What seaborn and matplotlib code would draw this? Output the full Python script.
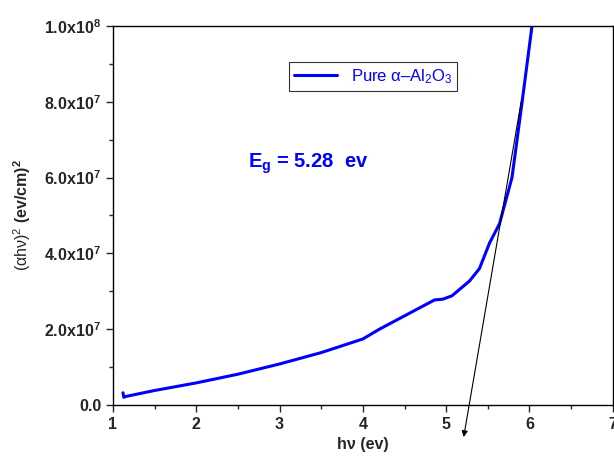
import matplotlib
matplotlib.use('Agg')
import matplotlib.pyplot as plt
import matplotlib.ticker as mticker
import numpy as np
import pandas as pd
import seaborn as sns

sns.set_style("ticks")
plt.rcParams['font.family'] = ['Liberation Sans', 'DejaVu Sans']
plt.rcParams['mathtext.fontset'] = 'custom'
plt.rcParams['mathtext.rm'] = 'Liberation Sans'
plt.rcParams['mathtext.bf'] = 'Liberation Sans:bold'
plt.rcParams['mathtext.it'] = 'Liberation Sans:italic'

# photon energy (eV) and (alpha h nu)^2
hv = [1.12, 1.13, 1.15, 1.5, 2.0, 2.5, 3.0, 3.5, 4.0, 4.2, 4.5, 4.86, 4.96,
      5.07, 5.28, 5.40, 5.52, 5.64, 5.79, 5.91, 6.03]
ahv2 = [3.2e6, 2.0e6, 2.2e6, 3.8e6, 5.8e6, 8.1e6, 10.8e6, 13.8e6, 17.4e6, 20.0e6,
        23.5e6, 27.7e6, 27.9e6, 28.8e6, 32.7e6, 36.0e6, 42.7e6, 47.8e6, 60.0e6,
        79.7e6, 100.0e6]

# tangent extrapolation to the band gap
tangent_start = (5.90, 80e6)
tangent_end = (5.21, -8.5e6)
eg = 5.28

df = pd.DataFrame({'hv': hv, 'ahv2': ahv2})

fig, ax = plt.subplots(figsize=(6.14, 4.58), dpi=100)
fig.subplots_adjust(left=0.184, right=0.998, top=0.943, bottom=0.116)

sns.lineplot(data=df, x='hv', y='ahv2', color='#0000ff', linewidth=2.2, sort=False,
             label='Pure α\u2013Al$_2$O$_3$', ax=ax)

ax.annotate('', xy=tangent_end, xytext=tangent_start, annotation_clip=False,
            arrowprops=dict(arrowstyle='-|>', color='black', lw=0.8, mutation_scale=9,
                            shrinkA=0, shrinkB=0))

ax.text(2.62, 6.25e7, r'$\mathbf{E_g}$' + f' = {eg:.2f}  ev', color='#0000ff',
        fontsize=14.5, fontweight='bold')

ax.set_xlim(1, 7)
ax.set_ylim(0, 1e8)
ax.xaxis.set_major_locator(mticker.MultipleLocator(1))
ax.xaxis.set_minor_locator(mticker.MultipleLocator(0.5))
ax.yaxis.set_major_locator(mticker.MultipleLocator(2e7))
ax.yaxis.set_minor_locator(mticker.MultipleLocator(1e7))


def yfmt(v, pos):
    if v <= 0:
        return '0.0' if v == 0 else ''
    e = int(np.floor(np.log10(v)))
    return r'$\mathbf{%.1fx10^{%d}}$' % (v / 10**e, e)


ax.yaxis.set_major_formatter(mticker.FuncFormatter(yfmt))
ax.tick_params(axis='both', which='major', direction='out', length=5, width=1,
               labelsize=11.5)
ax.tick_params(axis='both', which='minor', direction='out', length=3, width=1)
for lab in ax.get_xticklabels() + ax.get_yticklabels():
    lab.set_fontweight('bold')
for s in ax.spines.values():
    s.set_linewidth(1.0)
    s.set_color('black')

ax.set_xlabel('hν (ev)', fontsize=11.5, fontweight='bold', labelpad=4)
ax.set_ylabel(r'(αhν)$^2$ $\mathbf{(ev/cm)^2}$', fontsize=11.5, labelpad=8)

leg = ax.legend(loc='upper left', bbox_to_anchor=(0.352, 0.905), frameon=True,
                fancybox=False, fontsize=12, handlelength=2.6, borderpad=0.3,
                borderaxespad=0)
leg.get_frame().set_edgecolor('black')
leg.get_frame().set_linewidth(0.8)
for t in leg.get_texts():
    t.set_color('#0000ff')

fig.savefig('out.png', dpi=100)
